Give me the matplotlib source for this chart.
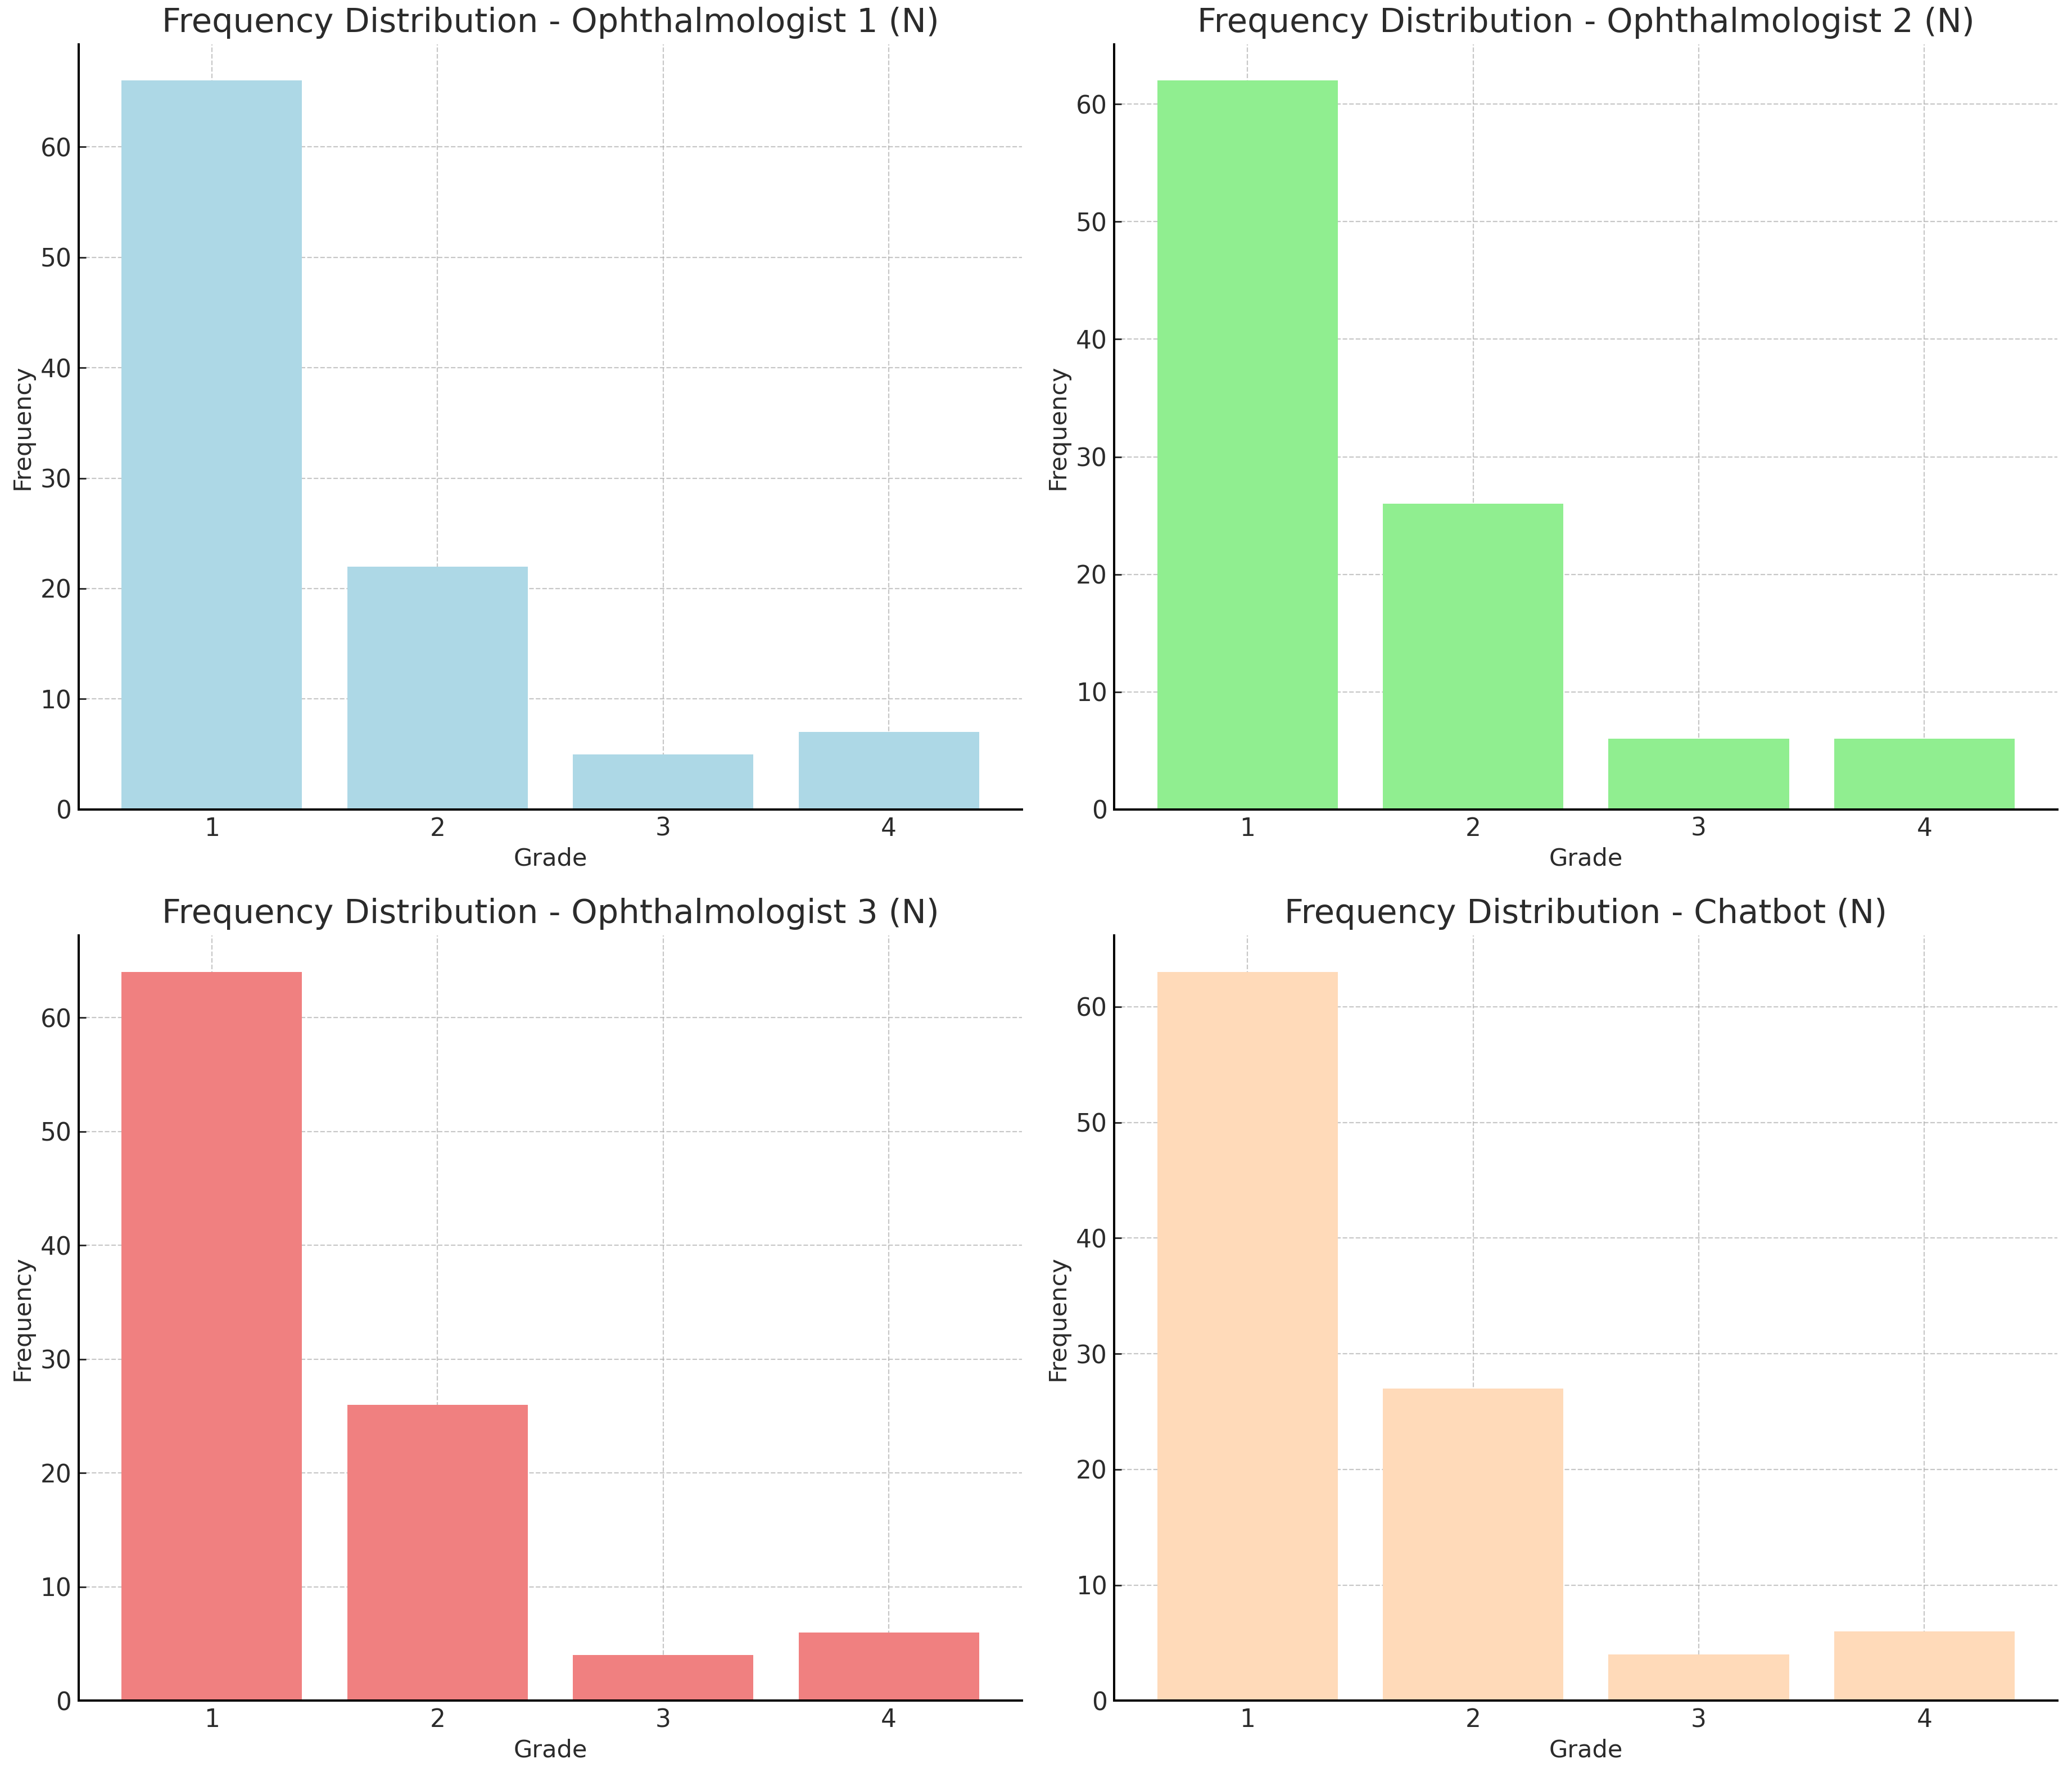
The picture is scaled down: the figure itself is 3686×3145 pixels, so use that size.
import matplotlib
matplotlib.use("Agg")
import matplotlib.pyplot as plt

grades = [1, 2, 3, 4]
oph1 = [66, 22, 5, 7]
oph2 = [62, 26, 6, 6]
oph3 = [64, 26, 4, 6]
chatbot = [63, 27, 4, 6]

titles = [
    "Frequency Distribution - Ophthalmologist 1 (N)",
    "Frequency Distribution - Ophthalmologist 2 (N)",
    "Frequency Distribution - Ophthalmologist 3 (N)",
    "Frequency Distribution - Chatbot (N)",
]
colors = ["lightblue", "lightgreen", "lightcoral", "peachpuff"]

plt.rcParams.update({
    "font.family": "DejaVu Sans",
    "text.color": "#2b2b2b",
    "axes.labelcolor": "#2b2b2b",
    "xtick.color": "#2b2b2b",
    "ytick.color": "#2b2b2b",
    "xtick.direction": "in",
    "ytick.direction": "in",
})

dpi = 263
fig, axes = plt.subplots(2, 2, figsize=(3686 / dpi, 3145 / dpi), dpi=dpi)
fig.subplots_adjust(left=0.038, right=0.993, top=0.975, bottom=0.038,
                    wspace=0.098, hspace=0.165)

for ax, data, title, color in zip(axes.flat, [oph1, oph2, oph3, chatbot], titles, colors):
    ax.bar(grades, data, color=color, zorder=2)
    ax.set_title(title, fontsize=16.2)
    ax.set_xlabel("Grade", fontsize=11.8, labelpad=3)
    ax.set_ylabel("Frequency", fontsize=11.8, labelpad=3)
    ax.set_xticks(grades)
    ax.tick_params(labelsize=12)
    ax.grid(True, linestyle="--", color="#b0b0b0", alpha=0.7, linewidth=0.6, zorder=0)
    ax.spines["top"].set_visible(False)
    ax.spines["right"].set_visible(False)
    ax.spines["left"].set_linewidth(1.1)
    ax.spines["bottom"].set_linewidth(1.1)

fig.savefig("out.png", dpi=dpi)
